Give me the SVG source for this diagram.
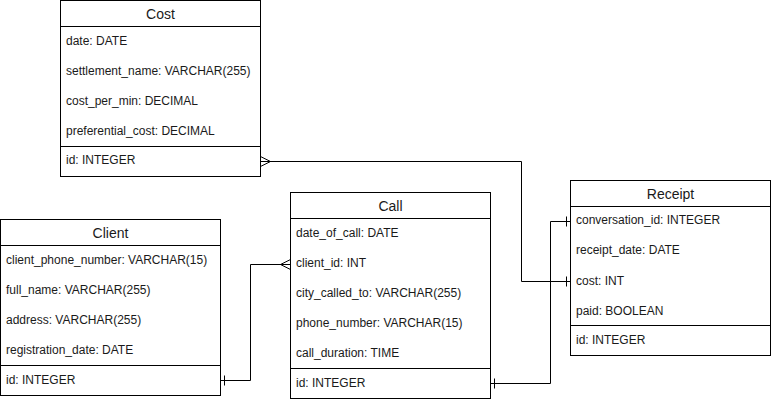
<svg xmlns="http://www.w3.org/2000/svg" width="771" height="403" viewBox="0 0 771 403">
<style>
.box{fill:#fff;stroke:#000;stroke-width:1}
.sep{stroke:#000;stroke-width:1}
.t{font-family:"Liberation Sans",Arial,sans-serif;font-size:14px;fill:#1a1a1a;text-anchor:middle}
.r{font-family:"Liberation Sans",Arial,sans-serif;font-size:12px;fill:#1a1a1a}
.c{fill:none;stroke:#000;stroke-width:1}
</style>
<rect width="771" height="403" fill="#fff"/>
<g id="connectors">
  <path class="c" d="M260.5 161.5 H521.5 V281.5 H570.5"/>
  <path class="c" d="M260.5 156.5 L270.5 161.5 L260.5 166.5"/>
  <path class="c" d="M566.5 276.5 V286.5"/>
  <path class="c" d="M220.5 380.5 H250.5 V264.5 H290.5"/>
  <path class="c" d="M224.5 375.5 V385.5"/>
  <path class="c" d="M290.5 259.5 L280.5 264.5 L290.5 269.5"/>
  <path class="c" d="M490.5 383.5 H550.5 V221.5 H570.5"/>
  <path class="c" d="M494.5 378.5 V388.5"/>
  <path class="c" d="M566.5 216.5 V226.5"/>
</g>
<g id="cost">
  <rect class="box" x="60.5" y="0.5" width="200" height="176"/>
  <line class="sep" x1="60.5" y1="26.5" x2="260.5" y2="26.5"/>
  <line class="sep" x1="60.5" y1="146.5" x2="260.5" y2="146.5"/>
  <text class="t" x="160.5" y="19">Cost</text>
  <text class="r" x="66" y="45">date: DATE</text>
  <text class="r" x="66" y="75">settlement_name: VARCHAR(255)</text>
  <text class="r" x="66" y="105">cost_per_min: DECIMAL</text>
  <text class="r" x="66" y="135">preferential_cost: DECIMAL</text>
  <text class="r" x="66" y="164">id: INTEGER</text>
</g>
<g id="client">
  <rect class="box" x="0.5" y="219.5" width="220" height="176"/>
  <line class="sep" x1="0.5" y1="245.5" x2="220.5" y2="245.5"/>
  <line class="sep" x1="0.5" y1="365.5" x2="220.5" y2="365.5"/>
  <text class="t" x="110.5" y="238">Client</text>
  <text class="r" x="6" y="264">client_phone_number: VARCHAR(15)</text>
  <text class="r" x="6" y="294">full_name: VARCHAR(255)</text>
  <text class="r" x="6" y="324">address: VARCHAR(255)</text>
  <text class="r" x="6" y="354">registration_date: DATE</text>
  <text class="r" x="6" y="384">id: INTEGER</text>
</g>
<g id="call">
  <rect class="box" x="290.5" y="192.5" width="200" height="206"/>
  <line class="sep" x1="290.5" y1="218.5" x2="490.5" y2="218.5"/>
  <line class="sep" x1="290.5" y1="368.5" x2="490.5" y2="368.5"/>
  <text class="t" x="390.5" y="211">Call</text>
  <text class="r" x="296" y="237">date_of_call: DATE</text>
  <text class="r" x="296" y="267">client_id: INT</text>
  <text class="r" x="296" y="297">city_called_to: VARCHAR(255)</text>
  <text class="r" x="296" y="327">phone_number: VARCHAR(15)</text>
  <text class="r" x="296" y="357">call_duration: TIME</text>
  <text class="r" x="296" y="387">id: INTEGER</text>
</g>
<g id="receipt">
  <rect class="box" x="570.5" y="180.5" width="200" height="175"/>
  <line class="sep" x1="570.5" y1="206.5" x2="770.5" y2="206.5"/>
  <line class="sep" x1="570.5" y1="325.5" x2="770.5" y2="325.5"/>
  <text class="t" x="670.5" y="199">Receipt</text>
  <text class="r" x="576" y="224">conversation_id: INTEGER</text>
  <text class="r" x="576" y="254">receipt_date: DATE</text>
  <text class="r" x="576" y="285">cost: INT</text>
  <text class="r" x="576" y="315">paid: BOOLEAN</text>
  <text class="r" x="576" y="344">id: INTEGER</text>
</g>
</svg>
